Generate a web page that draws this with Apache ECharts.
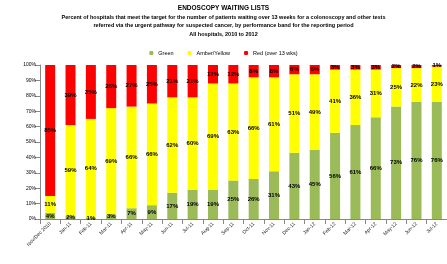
<!DOCTYPE html>
<html>
<head>
<meta charset="utf-8">
<script src="https://cdn.jsdelivr.net/npm/echarts@6/dist/echarts.min.js"></script>
<style>
  html, body { margin: 0; padding: 0; background: #fff; }
  .EC { width: 447px; height: 264px; }
</style>
</head>
<body>
<div class="EC"></div>
<script>
    // categories (x axis)
    const categories = ['Nov/Dec 2010', 'Jan-11', 'Feb-11', 'Mar-11', 'Apr-11', 'May-11', 'Jun-11', 'Jul-11', 'Aug-11', 'Sep-11',
        'Oct-11', 'Nov-11', 'Dec-11', 'Jan-12', 'Feb-12', 'Mar-12', 'Apr-12', 'May-12', 'Jun-12', 'Jul-12']
    // percentage of hospitals in each band
    const greenVals = [4, 2, 1, 3, 7, 9, 17, 19, 19, 25, 26, 31, 43, 45, 56, 61, 66, 73, 76, 76]
    const amberVals = [11, 59, 64, 69, 66, 66, 62, 60, 69, 63, 66, 61, 51, 49, 41, 36, 31, 25, 22, 23]
    const redVals = [85, 39, 35, 28, 27, 25, 21, 21, 12, 12, 8, 8, 6, 6, 3, 3, 3, 2, 2, 1]
    const yTicks = ['0%', '10%', '20%', '30%', '40%', '50%', '60%', '70%', '80%', '90%', '100%']

    const font = 'Liberation Sans'
    const segLabel = {
        show: true,
        position: 'inside',
        formatter: '{c}%',
        fontSize: 6,
        fontFamily: font,
        fontWeight: 'bold',
        color: '#000'
    }

    let EC = echarts.init(document.querySelector('.EC'))
    let option = {
        backgroundColor: '#fff',
        animation: false,
        title: {
            text: 'ENDOSCOPY WAITING LISTS',
            subtext: 'Percent of hospitals that meet the target for the number of patients waiting over 13 weeks for a colonoscopy and other tests\n' +
                'referred via the urgent pathway for suspected cancer, by performance band for the reporting period\n' +
                'All hospitals, 2010 to 2012',
            left: 'center',
            top: 0,
            itemGap: 1,
            textStyle: { fontSize: 6.5, fontWeight: 'bold', fontFamily: font, color: '#000' },
            subtextStyle: { fontSize: 5.5, fontWeight: 'bold', fontFamily: font, color: '#000', lineHeight: 8.5, align: 'center' }
        },
        legend: {
            top: 45,
            left: 'center',
            itemWidth: 4,
            itemHeight: 4,
            itemGap: 14,
            textStyle: { fontSize: 5.5, fontFamily: font, color: '#000' },
            data: ['Green', 'Amber/Yellow', 'Red (over 13 wks)']
        },
        grid: { left: 40, right: -4, top: 65, bottom: 45 },
        xAxis: {
            type: 'category',
            data: categories,
            axisLine: { lineStyle: { color: '#888' } },
            axisTick: { show: true, lineStyle: { color: '#888' } },
            axisLabel: { rotate: 45, fontSize: 5, fontFamily: font, color: '#222', interval: 0, margin: 4 }
        },
        yAxis: {
            type: 'value',
            min: 0,
            max: 100,
            interval: 10,
            splitLine: { show: false },
            axisLine: { show: true, lineStyle: { color: '#888' } },
            axisTick: { show: true, lineStyle: { color: '#888' } },
            axisLabel: {
                fontSize: 5, fontFamily: font, color: '#000', margin: 4,
                formatter: (v) => yTicks[Math.round(v / 10)]
            }
        },
        series: [
            { name: 'Green', type: 'bar', stack: 'all', barWidth: 10, data: greenVals, itemStyle: { color: '#9bbb59' }, label: segLabel },
            { name: 'Amber/Yellow', type: 'bar', stack: 'all', barWidth: 10, data: amberVals, itemStyle: { color: '#ffff00' }, label: segLabel },
            { name: 'Red (over 13 wks)', type: 'bar', stack: 'all', barWidth: 10, data: redVals, itemStyle: { color: '#ff0000' }, label: segLabel }
        ]
    }
    EC.setOption(option)
</script>
</body>
</html>
